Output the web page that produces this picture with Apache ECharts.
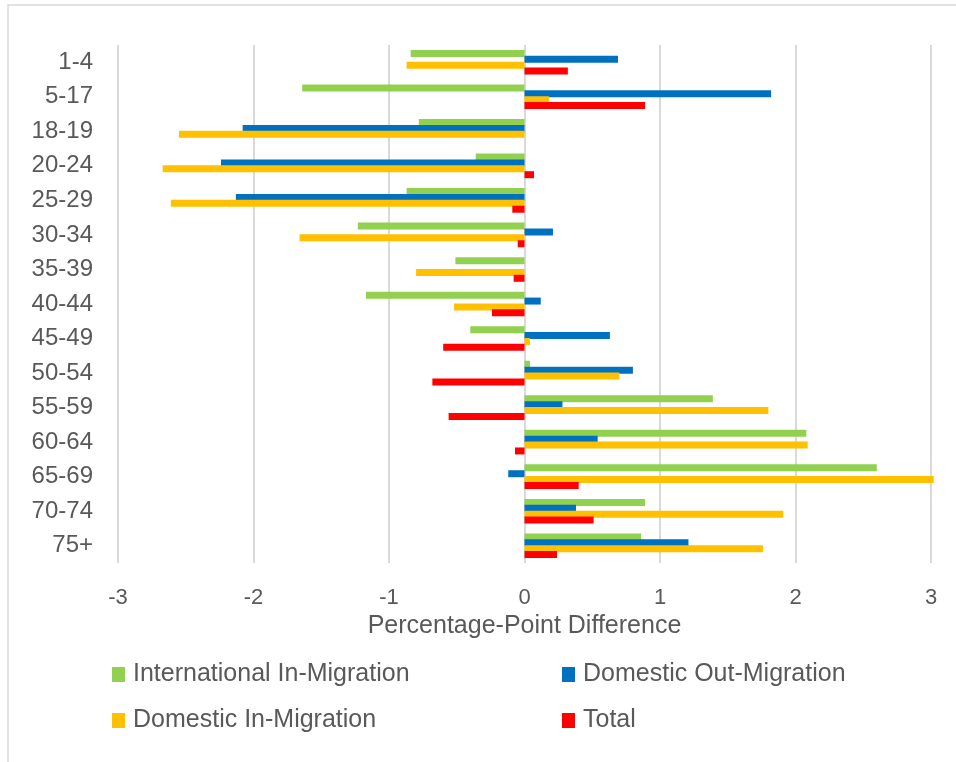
<!DOCTYPE html>
<html>
<head>
<meta charset="utf-8">
<script src="https://cdn.jsdelivr.net/npm/echarts@6/dist/echarts.min.js"></script>
<style>
  html, body { margin: 0; padding: 0; background: #ffffff; }
  #chart { width: 956px; height: 762px; }
</style>
</head>
<body>
<div id="chart"></div>
<script>
// Age groups, top to bottom
var categories = ['1-4', '5-17', '18-19', '20-24', '25-29', '30-34', '35-39', '40-44',
                  '45-49', '50-54', '55-59', '60-64', '65-69', '70-74', '75+'];

// Percentage-point differences by component
var internationalIn = [-0.84, -1.64, -0.78, -0.36, -0.87, -1.23, -0.51, -1.17, -0.40, 0.04, 1.39, 2.08, 2.60, 0.89, 0.86];
var domesticOut     = [0.69, 1.82, -2.08, -2.24, -2.13, 0.21, 0, 0.12, 0.63, 0.80, 0.28, 0.54, -0.12, 0.38, 1.21];
var domesticIn      = [-0.87, 0.18, -2.55, -2.67, -2.61, -1.66, -0.80, -0.52, 0.04, 0.70, 1.80, 2.09, 3.02, 1.91, 1.76];
var total           = [0.32, 0.89, 0, 0.07, -0.09, -0.05, -0.08, -0.24, -0.60, -0.68, -0.56, -0.07, 0.40, 0.51, 0.24];

var xTicks = [-3, -2, -1, 0, 1, 2, 3];

var FONT = '"Liberation Sans", Arial, sans-serif';
var TEXT = '#595959';

var chart = echarts.init(document.getElementById('chart'));

function barSeries(name, data, color) {
  return {
    name: name,
    type: 'bar',
    data: data,
    barWidth: 7,
    barGap: '-16%',
    clip: false,
    itemStyle: { color: color },
    emphasis: { disabled: true }
  };
}

var legendBase = {
  orient: 'vertical',
  top: 657,
  itemWidth: 13,
  itemHeight: 15,
  itemGap: 21,
  icon: 'rect',
  textStyle: { fontFamily: FONT, fontSize: 25, color: TEXT, padding: [0, 0, 0, 3] }
};

chart.setOption({
  animation: false,
  backgroundColor: '#ffffff',
  graphic: [{
    type: 'rect',
    shape: { x: 8, y: 5, width: 1000, height: 800 },
    style: { fill: 'none', stroke: '#d9d9d9', lineWidth: 1.5 },
    silent: true
  }],
  grid: { left: 118, right: 25, top: 45, bottom: 199, containLabel: false },
  xAxis: {
    type: 'value',
    min: xTicks[0],
    max: xTicks[xTicks.length - 1],
    interval: 1,
    name: 'Percentage-Point Difference',
    nameLocation: 'middle',
    nameGap: 46,
    nameTextStyle: { fontFamily: FONT, fontSize: 25, color: TEXT },
    axisLine: { show: false },
    axisTick: { show: false },
    axisLabel: { fontFamily: FONT, fontSize: 22, color: TEXT, margin: 24 },
    splitLine: { show: true, lineStyle: { color: '#d9d9d9', width: 2 } }
  },
  yAxis: {
    type: 'category',
    data: categories,
    inverse: true,
    axisLine: { show: false, onZero: false },
    axisTick: { show: false },
    axisLabel: { fontFamily: FONT, fontSize: 24, color: TEXT, margin: 25 },
    splitLine: { show: false }
  },
  legend: [
    Object.assign({}, legendBase, { left: 107, data: ['International In-Migration', 'Domestic In-Migration'] }),
    Object.assign({}, legendBase, { left: 557, data: ['Domestic Out-Migration', 'Total'] })
  ],
  series: [
    barSeries('International In-Migration', internationalIn, '#92D050'),
    barSeries('Domestic Out-Migration', domesticOut, '#0070C0'),
    barSeries('Domestic In-Migration', domesticIn, '#FFC000'),
    barSeries('Total', total, '#FF0000')
  ]
});
</script>
</body>
</html>
